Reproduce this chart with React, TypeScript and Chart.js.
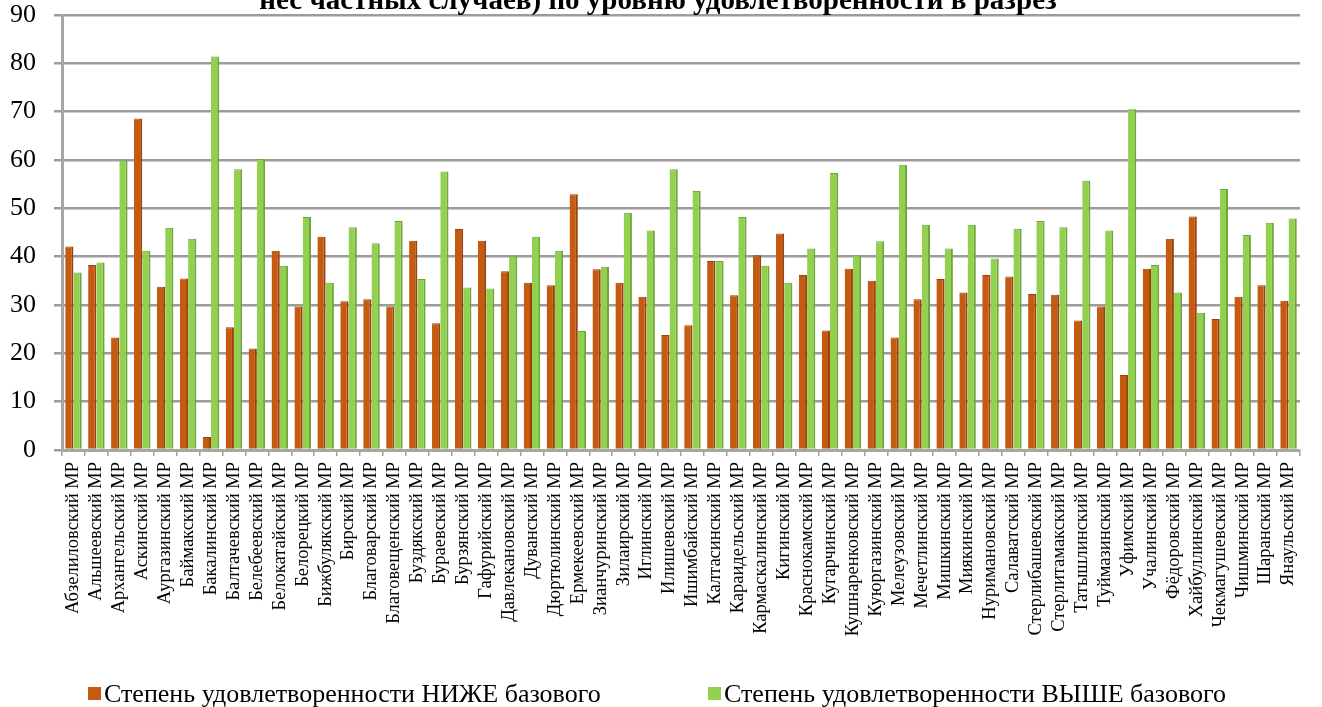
import React, { useEffect, useRef } from 'react';
import { Chart, registerables } from 'chart.js';

Chart.register(...registerables);

const categories = [
  'Абзелиловский МР', 'Альшеевский МР', 'Архангельский МР', 'Аскинский МР', 'Аургазинский МР',
  'Баймакский МР', 'Бакалинский МР', 'Балтачевский МР', 'Белебеевский МР', 'Белокатайский МР',
  'Белорецкий МР', 'Бижбулякский МР', 'Бирский МР', 'Благоварский МР', 'Благовещенский МР',
  'Буздякский МР', 'Бураевский МР', 'Бурзянский МР', 'Гафурийский МР', 'Давлекановский МР',
  'Дуванский МР', 'Дюртюлинский МР', 'Ермекеевский МР', 'Зианчуринский МР', 'Зилаирский МР',
  'Иглинский МР', 'Илишевский МР', 'Ишимбайский МР', 'Калтасинский МР', 'Караидельский МР',
  'Кармаскалинский МР', 'Кигинский МР', 'Краснокамский МР', 'Кугарчинский МР', 'Кушнаренковский МР',
  'Куюргазинский МР', 'Мелеузовский МР', 'Мечетлинский МР', 'Мишкинский МР', 'Миякинский МР',
  'Нуримановский МР', 'Салаватский МР', 'Стерлибашевский МР', 'Стерлитамакский МР', 'Татышлинский МР',
  'Туймазинский МР', 'Уфимский МР', 'Учалинский МР', 'Фёдоровский МР', 'Хайбуллинский МР',
  'Чекмагушевский МР', 'Чишминский МР', 'Шаранский МР', 'Янаульский МР',
];

const belowBase = [
  42.1, 38.3, 23.3, 68.6, 33.8, 35.5, 2.7, 25.4, 21.0, 41.2,
  29.7, 44.1, 30.8, 31.2, 29.7, 43.3, 26.2, 45.7, 43.3, 37.0,
  34.6, 34.1, 52.9, 37.4, 34.6, 31.7, 23.8, 25.8, 39.1, 32.0,
  40.3, 44.8, 36.2, 24.7, 37.5, 35.0, 23.3, 31.2, 35.4, 32.6,
  36.2, 35.9, 32.3, 32.1, 26.8, 29.7, 15.5, 37.5, 43.7, 48.3,
  27.1, 31.7, 34.1, 30.9,
];

const aboveBase = [
  36.7, 38.8, 59.9, 41.2, 46.0, 43.7, 81.4, 58.1, 60.2, 38.1,
  48.2, 34.6, 46.1, 42.8, 47.4, 35.4, 57.6, 33.6, 33.4, 40.2,
  44.1, 41.2, 24.6, 37.9, 49.1, 45.4, 58.1, 53.6, 39.1, 48.2,
  38.1, 34.6, 41.7, 57.3, 40.3, 43.2, 59.0, 46.6, 41.7, 46.6,
  39.6, 45.8, 47.4, 46.1, 55.7, 45.4, 70.5, 38.3, 32.6, 28.4,
  54.0, 44.5, 47.0, 47.9,
];

const seriesLabels = [
  'Степень удовлетворенности НИЖЕ базового',
  'Степень удовлетворенности ВЫШЕ базового',
];

const titleText = 'нес частных случаев) по уровню удовлетворенности в разрез';

const SERIF = "'Liberation Serif', 'Times New Roman', serif";
const ORANGE = '#C55A11';
const ORANGE_DARK = '#9A420A';
const GREEN = '#92D050';
const GREEN_DARK = '#6EA638';

const titlePlugin = {
  id: 'clippedTitle',
  afterDraw(chart: any) {
    const ctx = chart.ctx;
    ctx.save();
    ctx.font = `bold 29px ${SERIF}`;
    ctx.fillStyle = '#000';
    ctx.textAlign = 'center';
    ctx.textBaseline = 'alphabetic';
    ctx.fillText(titleText, 658, 9);
    ctx.restore();
  },
};

const legendPlugin = {
  id: 'bottomLegend',
  afterDraw(chart: any) {
    const ctx = chart.ctx;
    const items = [
      { x: 88, color: ORANGE, text: seriesLabels[0] },
      { x: 708, color: GREEN, text: seriesLabels[1] },
    ];
    ctx.save();
    ctx.font = `26px ${SERIF}`;
    ctx.textBaseline = 'alphabetic';
    ctx.textAlign = 'left';
    items.forEach((it) => {
      ctx.fillStyle = it.color;
      ctx.fillRect(it.x, 687, 13, 13);
      ctx.fillStyle = '#000';
      ctx.fillText(it.text, it.x + 16, 702);
    });
    ctx.restore();
  },
};

export default function App() {
  const ref = useRef<HTMLCanvasElement | null>(null);

  useEffect(() => {
    if (!ref.current) return;
    const chart = new Chart(ref.current, {
      type: 'bar',
      data: {
        labels: categories,
        datasets: [
          {
            label: seriesLabels[0],
            data: belowBase,
            backgroundColor: ORANGE,
            borderColor: ORANGE_DARK,
            borderWidth: { top: 1, right: 2, bottom: 0, left: 0 },
            borderSkipped: false,
          },
          {
            label: seriesLabels[1],
            data: aboveBase,
            backgroundColor: GREEN,
            borderColor: GREEN_DARK,
            borderWidth: { top: 1, right: 2, bottom: 0, left: 0 },
            borderSkipped: false,
          },
        ],
      },
      options: {
        animation: false,
        responsive: false,
        maintainAspectRatio: false,
        layout: { padding: { top: 15, right: 22, left: 0, bottom: 0 } },
        datasets: { bar: { categoryPercentage: 0.72, barPercentage: 1 } },
        plugins: {
          legend: { display: false },
          title: { display: false },
          tooltip: { enabled: false },
        },
        scales: {
          x: {
            grid: {
              offset: true,
              drawOnChartArea: false,
              drawTicks: true,
              tickLength: 6,
              color: '#a0a0a0',
              lineWidth: 1.5,
            },
            border: { display: true, color: '#a6a6a6', width: 3 },
            ticks: {
              autoSkip: false,
              maxRotation: 90,
              minRotation: 90,
              padding: 6,
              color: '#000',
              font: { family: SERIF, size: 18.5 },
            },
            afterFit: (s: any) => {
              s.height = 257;
              s.paddingLeft = 0;
              s.paddingRight = 0;
            },
          },
          y: {
            min: 0,
            max: 90,
            ticks: {
              stepSize: 10,
              padding: 18,
              color: '#000',
              font: { family: SERIF, size: 26 },
            },
            grid: {
              color: '#9c9c9c',
              lineWidth: 2.5,
              tickLength: 8,
              drawTicks: true,
            },
            border: { display: true, color: '#a6a6a6', width: 3 },
            afterFit: (s: any) => {
              s.width = 62;
              s.paddingTop = 0;
              s.paddingBottom = 0;
            },
          },
        },
      },
      plugins: [titlePlugin, legendPlugin],
    });
    return () => chart.destroy();
  }, []);

  return (
    <div style={{ position: 'absolute', left: 0, top: 0, width: 1322, height: 707, background: '#fff' }}>
      <canvas ref={ref} width={1322} height={707} style={{ display: 'block' }} />
    </div>
  );
}
